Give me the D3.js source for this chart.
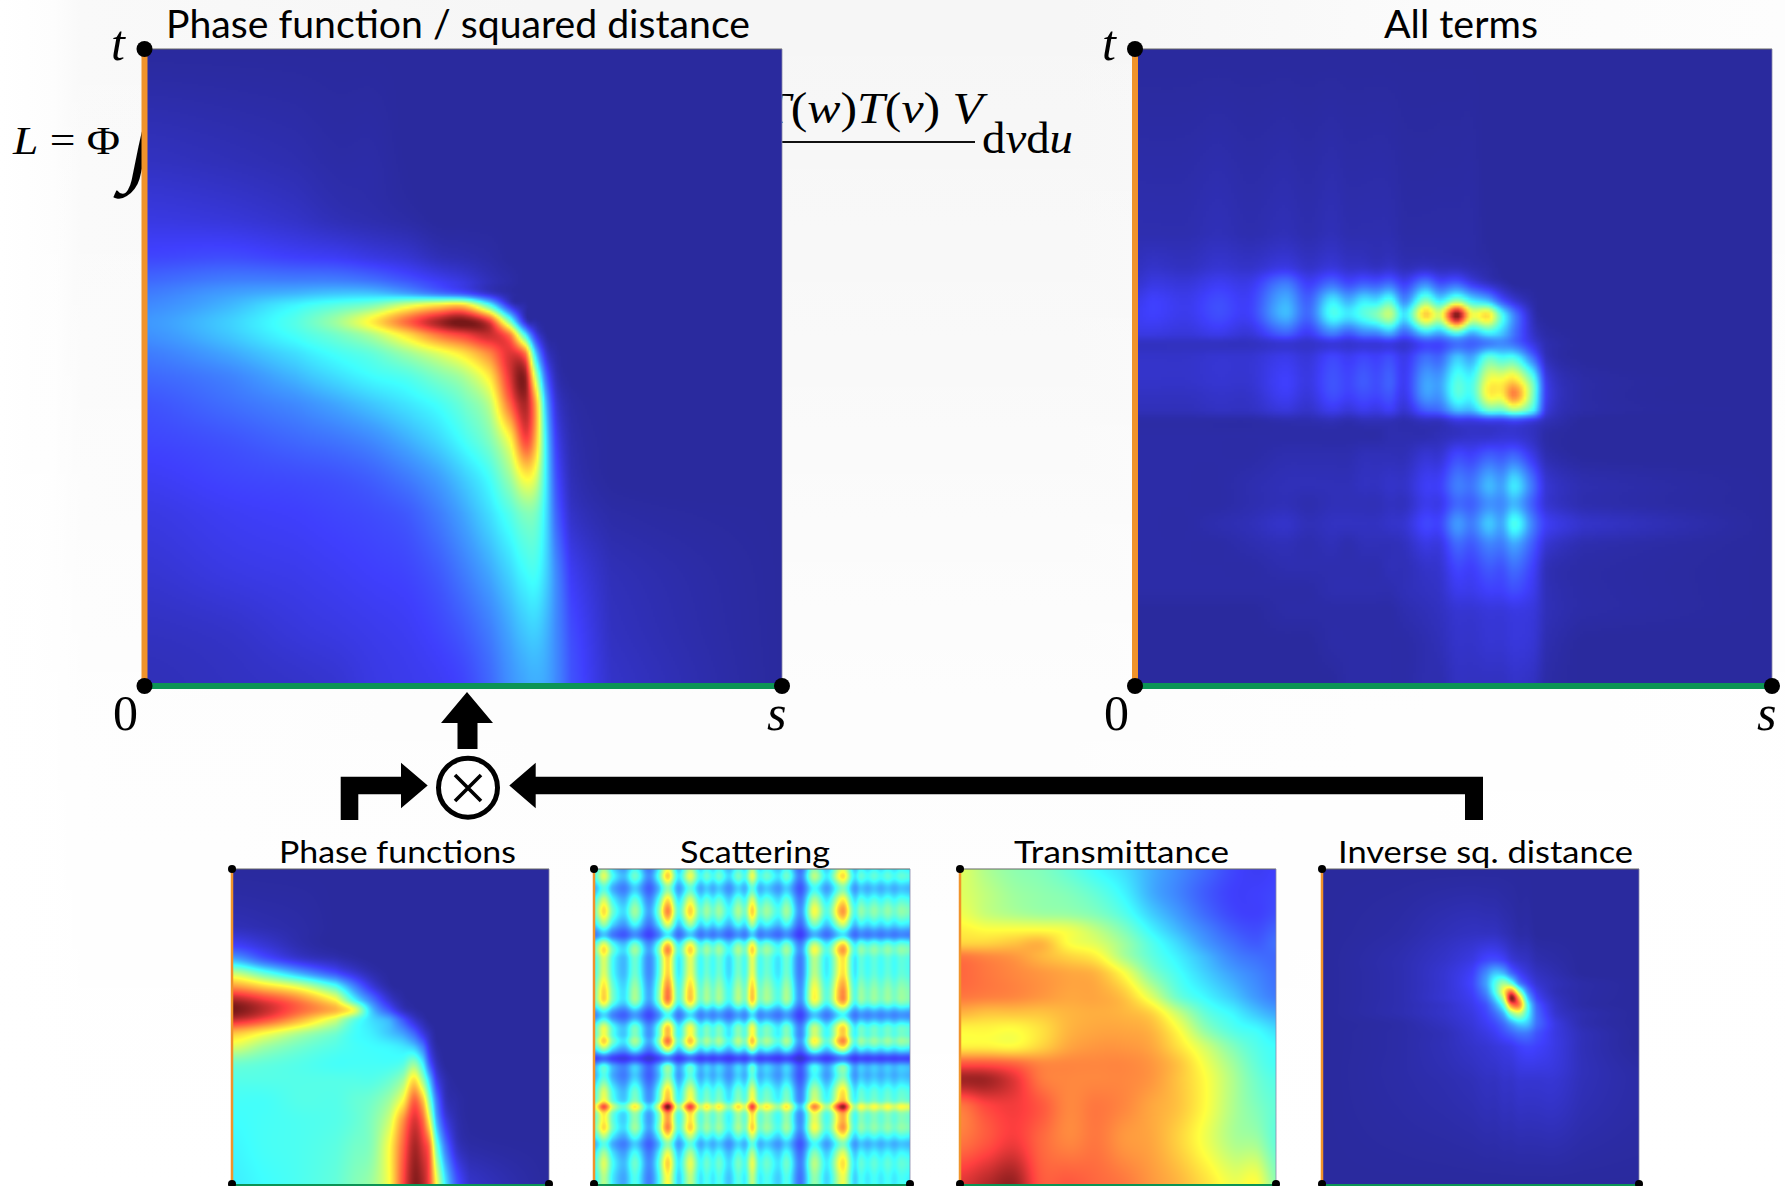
<!DOCTYPE html>
<html><head><meta charset="utf-8"><script src="https://cdn.jsdelivr.net/npm/d3@7"></script>
<style>html,body{margin:0;padding:0;background:#fff;overflow:hidden}svg{display:block}</style></head><body><script>
const jetStops=[0,11,25,37,50,62,75,87,100];
const jetColors=["#2a2a9e","#3f3ffd","#3f9fff","#3fffff","#9fff9f","#ffff3f","#ff9f3f","#ff3f3f","#771818"];

const phaseDistS=[289,450,580,660,730,800,860,910,960,1000,1030,1050,1070,1090,1120,1200,1533];
const phaseDistT=[105,350,480,560,610,640,665,700,730,770,820,880,960,1040,1120,1250,1380,1493];
const phaseDist=[
[0,0,0,0,0,0,0,0,0,0,0,0,0,0,0,0,0],
[4,3,2,1,1,0,0,0,0,0,0,0,0,0,0,0,0],
[8,7,5,3,2,1,0,0,0,0,0,0,0,0,0,0,0],
[12,13,11,10,8,6,3,2,1,0,0,0,0,0,0,0,0],
[17,20,20,20,18,14,10,7,3,1,0,0,0,0,0,0,0],
[20,25,28,30,30,26,20,15,6,1,0,0,0,0,0,0,0],
[22,28,36,41,46,58,66,68,40,8,1,0,0,0,0,0,0],
[24,31,40,50,64,82,95,100,88,45,6,1,0,0,0,0,0],
[23,30,38,44,52,66,80,87,92,80,38,10,1,0,0,0,0],
[20,26,33,38,42,50,58,66,78,90,80,32,7,1,0,0,0],
[17,21,28,33,37,40,46,52,65,90,97,55,18,3,0,0,0],
[14,18,22,26,30,34,38,44,54,82,95,74,30,7,1,0,0],
[12,14,17,19,22,27,32,38,46,62,86,72,36,11,2,0,0],
[10,12,13,14,16,20,25,31,38,50,63,58,36,14,3,0,0],
[8,10,11,12,13,15,20,26,33,40,46,45,34,17,5,1,0],
[6,8,9,10,11,12,15,20,26,32,37,38,32,22,10,3,0],
[4,5,7,8,9,10,12,15,20,26,30,31,28,22,13,4,0],
[3,4,5,6,8,9,10,12,17,23,26,27,26,22,14,5,0]];

const allS=[115,160,260,355,450,555,625,695,745,790,830,870,915,975,1020,1070,1115,1165,1205,1245,1300,1340,1450,2016];
const allT=[-453,100,200,250,300,345,400,430,470,540,585,630,660,700,760,850,910,970,1030,1100,1170,1230,1330,1449];
const allTerms=[
[0,0,0,0,0,0,0,0,0,0,0,0,0,0,0,0,0,0,0,0,0,0,0,0],
[2,2,2,3,2,3,2,3,2,2,2,2,1,1,1,1,1,0,0,0,0,0,0,0],
[4,5,4,6,5,8,5,7,5,5,4,5,3,4,3,3,2,1,0,0,0,0,0,0],
[6,8,7,10,9,20,11,18,13,16,15,18,11,22,14,17,10,5,2,0,0,0,0,0],
[9,11,9,13,11,27,16,34,27,34,33,40,22,46,34,48,35,28,14,6,1,0,0,0],
[10,11,9,13,11,28,17,38,34,40,46,54,34,68,58,100,62,66,40,20,3,0,0,0],
[8,8,7,9,7,16,10,20,15,20,21,26,16,30,26,38,27,35,30,18,5,1,0,0],
[4,4,4,4,4,6,5,7,6,7,7,8,6,12,12,18,16,20,22,18,8,2,0,0],
[5,5,5,6,6,9,7,12,10,12,11,13,9,18,17,30,26,42,38,38,18,3,0,0],
[5,5,5,6,6,11,8,14,12,15,13,16,10,25,25,40,38,60,62,66,42,8,1,0],
[4,4,4,5,5,10,7,13,11,13,12,14,9,24,24,40,38,62,63,78,45,9,1,0],
[3,3,3,4,4,7,5,9,7,9,8,10,6,15,17,28,28,42,42,50,36,7,1,0],
[1,1,1,1,1,2,2,3,2,3,3,3,2,4,4,8,8,10,10,12,8,3,0,0],
[1,1,1,1,1,1,1,1,1,1,1,2,2,2,3,4,5,5,6,6,4,1,0,0],
[1,1,1,1,1,2,2,2,2,3,3,3,3,6,6,12,11,15,14,16,8,2,0,0],
[1,1,1,1,2,3,3,3,3,4,4,5,5,10,11,20,19,28,25,34,18,6,2,0],
[1,1,1,1,2,3,2,3,3,3,3,4,4,9,9,17,16,23,22,28,15,6,2,0],
[1,1,1,2,3,5,3,4,4,4,4,5,6,12,12,24,20,30,26,39,20,10,5,0],
[1,1,1,1,2,3,2,3,2,3,3,3,4,8,8,17,15,21,20,26,15,6,2,0],
[1,1,1,1,1,2,2,2,2,2,2,3,3,5,6,12,11,15,14,18,11,3,1,0],
[1,1,1,1,1,1,1,2,2,2,2,2,3,4,5,9,9,11,11,13,9,3,1,0],
[0,0,0,0,0,1,1,1,1,1,1,1,2,3,4,6,6,7,7,8,7,3,1,0],
[0,0,0,0,0,0,0,1,1,1,1,1,1,2,3,5,5,6,6,7,6,2,0,0],
[0,0,0,0,0,0,0,0,1,1,1,1,1,2,2,4,4,4,4,5,4,1,0,0]];

const phaseS=[30,100,180,260,300,340,380,410,435,455,470,485,505,530,560,737];
const phaseT=[567,740,800,840,880,920,960,990,1020,1060,1100,1150,1200,1260,1320,1400,1512];
const phaseFn=[
[0,0,0,0,0,0,0,0,0,0,0,0,0,0,0,0],
[3,2,1,0,0,0,0,0,0,0,0,0,0,0,0,0],
[12,7,2,0,0,0,0,0,0,0,0,0,0,0,0,0],
[28,16,7,3,1,0,0,0,0,0,0,0,0,0,0,0],
[55,42,27,14,7,2,0,0,0,0,0,0,0,0,0,0],
[76,68,58,40,22,8,1,0,0,0,0,0,0,0,0,0],
[95,88,78,62,38,20,6,1,0,0,0,0,0,0,0,0],
[100,93,82,72,60,30,14,4,1,0,0,0,0,0,0,0],
[92,85,72,56,42,33,27,15,6,2,0,0,0,0,0,0],
[70,62,52,44,38,35,30,25,17,8,3,0,0,0,0,0],
[58,50,44,40,38,37,36,34,30,20,7,1,0,0,0,0],
[44,42,40,38,38,38,38,40,48,35,15,4,0,0,0,0],
[40,40,40,40,40,40,43,50,66,50,30,10,2,0,0,0],
[38,38,40,40,42,44,50,62,82,70,45,20,4,1,0,0],
[37,38,39,40,42,46,56,76,90,82,60,28,9,2,0,0],
[36,38,39,41,44,47,62,82,95,90,80,45,20,5,1,0],
[35,37,39,42,46,50,62,85,98,95,85,62,35,15,5,0]];

const scatterS=[840,860,880,905,930,960,980,1003,1027,1053,1075,1090,1104,1118,1140,1160,1176,1192,1208,1225,1250,1270,1300,1330,1360,1395,1420,1435,1450,1465,1480,1495,1510,1525,1545];
const scatterSValues=[.58,.85,.56,.42,.64,.33,.55,1,.52,.87,.56,.64,.56,.64,.48,.66,.58,.87,.58,.64,.5,.64,.3,.78,.52,.97,.52,.62,.56,.62,.56,.62,.56,.62,.58];
const scatterT=[567,590,625,660,695,730,765,790,810,835,880,915,940,965,1005,1040,1065,1085,1110,1135,1160,1190,1230,1262,1280,1300,1320,1345,1370,1392,1420,1450,1490,1512];
const scatterTValues=[.6,.68,.48,.66,.78,.6,.35,.66,.78,.68,.68,.76,.8,.76,.38,.68,.72,.8,.55,.2,.48,.48,.66,.74,1,.78,.75,.78,.62,.48,.6,.68,.62,.62];

const transS=[45,100,160,220,280,340,400,460,520,580,640,690,733];
const transT=[567,640,700,750,790,830,880,950,1000,1050,1100,1150,1200,1280,1380,1512];
const transmittance=[
[58,52,48,46,42,37,33,27,22,17,12,10,11],
[58,54,50,48,46,42,36,27,21,15,11,11,12],
[60,55,52,50,49,46,40,31,24,17,12,11,13],
[64,62,62,62,60,54,46,36,28,21,15,13,16],
[68,68,70,72,62,58,50,40,32,24,18,15,18],
[80,78,76,72,68,64,52,42,35,28,21,18,17],
[82,80,78,76,74,72,62,47,38,31,25,21,18],
[80,79,78,76,74,74,70,58,43,36,30,24,20],
[72,70,70,70,72,73,72,68,55,42,36,30,26],
[63,63,62,66,72,74,74,72,62,48,40,37,33],
[64,64,63,68,74,76,76,74,66,56,46,40,37],
[84,84,82,78,78,78,78,76,70,60,50,42,38],
[96,96,90,80,78,78,78,76,70,62,52,44,40],
[80,86,88,84,78,80,78,74,70,62,52,46,42],
[80,84,88,82,78,80,76,74,68,60,52,50,42],
[90,94,97,84,84,82,80,76,72,66,60,62,48]];

const invS=[836,1000,1100,1160,1190,1210,1228,1245,1262,1280,1300,1340,1400,1522];
const invT=[567,760,840,880,910,935,955,975,1000,1030,1060,1100,1200,1512];
const inverseSq=[
[0,0,0,0,0,0,0,0,0,0,0,0,0,0],
[0,1,3,4,4,4,3,2,1,1,0,0,0,0],
[0,2,5,8,12,13,11,7,5,4,2,1,0,0],
[0,2,6,11,22,30,28,18,11,7,4,2,0,0],
[0,2,6,12,25,40,50,42,22,12,6,3,1,0],
[0,2,6,11,22,40,62,80,50,22,9,3,1,0],
[0,2,6,10,18,33,55,98,72,32,12,4,1,0],
[0,2,5,9,14,25,42,78,78,40,16,5,1,0],
[0,2,5,8,12,18,28,48,55,38,18,6,2,0],
[0,1,4,7,10,13,18,26,32,30,18,8,2,0],
[0,1,3,6,8,10,13,16,19,19,14,8,3,0],
[0,1,3,5,6,7,8,9,11,12,11,8,3,0],
[0,1,2,3,4,4,5,5,6,6,6,6,3,1],
[0,0,0,0,0,0,0,0,0,0,0,0,0,0]];

const bigTitles=["Phase function / squared distance","All terms"];
const smallTitles=["Phase functions","Scattering","Transmittance","Inverse sq. distance"];

const color=d3.scaleLinear().domain(jetStops).range(jetColors).clamp(true);
const svg=d3.select("body").append("svg").attr("width",1785).attr("height",1186).attr("viewBox","0 0 1785 1186");
const defs=svg.append("defs");
const gh=defs.append("linearGradient").attr("id","bgH");
[[0,"#ffffff"],[.03,"#fdfdfd"],[.045,"#f9f9f9"],[.3,"#f6f6f6"],[.6,"#f6f6f6"],[.8,"#fbfbfb"],[1,"#fdfdfd"]].forEach(d=>gh.append("stop").attr("offset",d[0]).attr("stop-color",d[1]));
const gv=defs.append("linearGradient").attr("id","bgV").attr("x1",0).attr("x2",0).attr("y1",0).attr("y2",1);
[[0,0],[.3,.35],[.6,.8],[1,1]].forEach(d=>gv.append("stop").attr("offset",d[0]).attr("stop-color","#fff").attr("stop-opacity",d[1]));
svg.append("rect").attr("width",1785).attr("height",1186).attr("fill","url(#bgH)");
svg.append("rect").attr("width",1785).attr("height",1186).attr("fill","url(#bgV)");

const serif="'Liberation Serif',serif", sans="Lato,'Open Sans',sans-serif";
function txt(x,y,size,fam,parts,len,anchor){
  const t=svg.append("text").attr("x",x).attr("y",y).attr("font-size",size).attr("font-family",fam).attr("fill","#000");
  if(anchor)t.attr("text-anchor",anchor);
  if(len)t.attr("textLength",len).attr("lengthAdjust","spacingAndGlyphs");
  (Array.isArray(parts)?parts:[[parts,0]]).forEach(p=>t.append("tspan").text(p[0]).attr("font-style",p[1]?"italic":"normal"));
  return t;
}
// equation behind the panels
txt(13,154,40,serif,[["L",1],[" = ",0],["Φ",0]],107);
txt(0,0,100,serif,"∫").attr("transform","translate(124,172) skewX(-12)");
txt(763,123,44,serif,[["T",1],["(",0],["w",1],[")",0],["T",1],["(",0],["v",1],[")",0],[" ",0],["V",1]],220);
svg.append("rect").attr("x",770).attr("y",141).attr("width",205).attr("height",2).attr("fill","#111");
txt(982,153,44,serif,[["d",0],["v",1],["d",0],["u",1]],91);

function heat(box,sK,tK,grid,res){
  const W=Math.round((box.x1-box.x0)*res),H=Math.round((box.y1-box.y0)*res);
  const cv=document.createElement("canvas");cv.width=W;cv.height=H;
  const ctx=cv.getContext("2d"),im=ctx.createImageData(W,H);
  const su=d3.scaleLinear().domain(sK).range(sK.map((_,i)=>i)).clamp(true);
  const tu=d3.scaleLinear().domain(tK).range(tK.map((_,i)=>i)).clamp(true);
  const sx=d3.scaleLinear().domain([0,W]).range([sK[0],sK[sK.length-1]]);
  const sy=d3.scaleLinear().domain([0,H]).range([tK[0],tK[tK.length-1]]);
  const cr=(a,b,c,d,t)=>.5*(2*b+(c-a)*t+(2*a-5*b+4*c-d)*t*t+(3*b-a-3*c+d)*t*t*t);
  const nr=grid.length,nc=grid[0].length,at=(r,c)=>grid[Math.max(0,Math.min(nr-1,r))][Math.max(0,Math.min(nc-1,c))];
  for(let j=0;j<H;j++){
    const v=tu(sy(j+.5)),r=Math.floor(v),ft=v-r;
    for(let i=0;i<W;i++){
      const u=su(sx(i+.5)),c=Math.floor(u),fs=u-c,q=[];
      for(let k=-1;k<3;k++)q.push(cr(at(r+k,c-1),at(r+k,c),at(r+k,c+1),at(r+k,c+2),fs));
      const val=Math.max(0,Math.min(100,cr(q[0],q[1],q[2],q[3],ft)));
      const col=d3.rgb(color(val)),o=(j*W+i)*4;
      im.data[o]=col.r;im.data[o+1]=col.g;im.data[o+2]=col.b;im.data[o+3]=255;
    }
  }
  ctx.putImageData(im,0,0);
  svg.append("image").attr("x",box.x0).attr("y",box.y0).attr("width",box.x1-box.x0).attr("height",box.y1-box.y0)
    .attr("preserveAspectRatio","none").attr("href",cv.toDataURL());
}
function frame(box,cx,big,titleText,titleX,titleLen,baseY,size){
  const lw=big?6:2.5, r=big?8:4;
  svg.append("line").attr("x1",box.x0).attr("x2",box.x1).attr("y1",box.y0).attr("y2",box.y0).attr("stroke","#666").attr("stroke-width",1);
  svg.append("line").attr("x1",box.x1).attr("x2",box.x1).attr("y1",box.y0).attr("y2",box.y1).attr("stroke","#8888aa").attr("stroke-width",.8);
  svg.append("rect").attr("x",cx-lw/2).attr("y",box.y0).attr("width",lw).attr("height",box.y1-box.y0).attr("fill","#f0932b");
  svg.append("rect").attr("x",cx).attr("y",box.y1-(big?1:0)).attr("width",box.x1-cx).attr("height",lw).attr("fill","#0c9455");
  svg.selectAll(null).data([[cx,box.y0],[cx,box.y1+(big?2:0)],[box.x1,box.y1+(big?2:0)]]).enter().append("circle")
    .attr("cx",d=>d[0]).attr("cy",d=>d[1]).attr("r",r).attr("fill","#000");
  txt(titleX,baseY,size,sans,titleText,titleLen);
}
const A={x0:147,x1:782,y0:49,y1:684},B={x0:1138,x1:1772,y0:49,y1:684};
const s1={x0:233,x1:549,y0:869,y1:1184},s2={x0:595,x1:910,y0:869,y1:1184},s3={x0:961,x1:1276,y0:869,y1:1184},s4={x0:1323,x1:1639,y0:869,y1:1184};

heat(A,phaseDistS,phaseDistT,phaseDist,.5);
heat(B,allS,allT,allTerms,.33);
heat(s1,phaseS,phaseT,phaseFn,1);
heat(s2,scatterS,scatterT,scatterTValues.map(r=>scatterSValues.map(c=>r*c*100)),1);
heat(s3,transS,transT,transmittance,1);
heat(s4,invS,invT,inverseSq,1);

frame(A,144.5,true,bigTitles[0],166,584,37.5,38);
frame(B,1135,true,bigTitles[1],1384,154,37.5,38);
frame(s1,232,false,smallTitles[0],279,237,863,31);
frame(s2,594,false,smallTitles[1],680,150,863,31);
frame(s3,960,false,smallTitles[2],1014,215,863,31);
frame(s4,1322,false,smallTitles[3],1338,295,863,31);

txt(111,60,50,serif,[["t",1]]);txt(1102,60,50,serif,[["t",1]]);
txt(113,730,50,serif,"0");txt(1104,730,50,serif,"0");
txt(767,730,50,serif,[["s",1]]);txt(1757,730,50,serif,[["s",1]]);

// combination arrows
const poly=pts=>d3.line()(pts)+"Z";
const arrows=[
 [[467,692],[493,723],[477.5,723],[477.5,749],[457.5,749],[457.5,723],[441,723]],
 [[340.7,820],[340.7,776.7],[401,776.7],[401,762.7],[427.7,785.5],[401,808.3],[401,794.3],[358.3,794.3],[358.3,820]],
 [[509.3,785.5],[535.7,762.7],[535.7,776.7],[1483,776.7],[1483,820],[1465,820],[1465,794.3],[535.7,794.3],[535.7,808.3]]];
svg.selectAll(null).data(arrows).enter().append("path").attr("d",poly).attr("fill","#000");
svg.append("circle").attr("cx",468).attr("cy",787.7).attr("r",29.5).attr("fill","#fff").attr("stroke","#000").attr("stroke-width",5);
svg.append("path").attr("d","M455,775L481,801M481,775L455,801").attr("stroke","#000").attr("stroke-width",3.6).attr("fill","none");
</script></body></html>
